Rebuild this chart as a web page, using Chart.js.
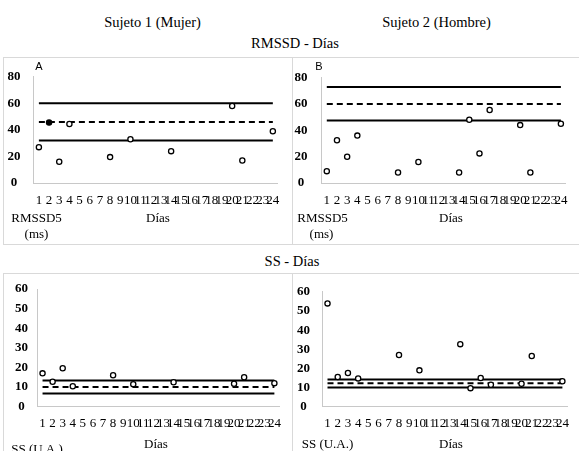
<!DOCTYPE html>
<html>
<head>
<meta charset="utf-8">
<script src="https://cdn.jsdelivr.net/npm/chart.js@4.4.1/dist/chart.umd.min.js"></script>
<style>
  body { margin: 0; width: 579px; height: 451px; position: relative; overflow: hidden; background: #fff; font-family: "Liberation Serif", "Times New Roman", serif; color: #000; }
  .t { position: absolute; white-space: nowrap; transform: translate(-50%, -50%); line-height: 1; }
  .titulo { font-size: 14.5px; }
  .eje { font-size: 13px; }
  .letra { font-family: "Liberation Sans", Arial, sans-serif; font-size: 11px; }
  .marco { position: absolute; border: 1px solid #d9d9d9; box-sizing: border-box; }
  canvas { position: absolute; }
</style>
</head>
<body>

<!-- frames around the four panels -->
<div class="marco" style="left:3px;top:57px;width:290px;height:188px"></div>
<div class="marco" style="left:292px;top:57px;width:290px;height:188px"></div>
<div class="marco" style="left:3px;top:273px;width:290px;height:190px"></div>
<div class="marco" style="left:292px;top:273px;width:290px;height:190px"></div>

<canvas id="rmssd1" width="287" height="187" style="left:4px;top:57px"></canvas>
<canvas id="rmssd2" width="287" height="187" style="left:292px;top:57px"></canvas>
<canvas id="ss1" width="287" height="178" style="left:4px;top:273px"></canvas>
<canvas id="ss2" width="287" height="178" style="left:292px;top:273px"></canvas>

<!-- titles -->
<div class="t titulo" style="left:152.5px;top:21.5px">Sujeto 1 (Mujer)</div>
<div class="t titulo" style="left:436.5px;top:21.5px">Sujeto 2 (Hombre)</div>
<div class="t titulo" style="left:295px;top:43px">RMSSD - Días</div>
<div class="t titulo" style="left:292px;top:261px">SS - Días</div>

<div class="t letra" style="left:39px;top:66px">A</div>
<div class="t letra" style="left:319px;top:66px">B</div>

<!-- axis labels -->
<div class="t eje" style="left:36.5px;top:216.5px">RMSSD5</div>
<div class="t eje" style="left:36.5px;top:233px">(ms)</div>
<div class="t eje" style="left:158px;top:217px">Días</div>
<div class="t eje" style="left:322.5px;top:216.5px">RMSSD5</div>
<div class="t eje" style="left:321.5px;top:233px">(ms)</div>
<div class="t eje" style="left:451px;top:217px">Días</div>
<div class="t eje" style="left:37px;top:448px">SS (U.A.)</div>
<div class="t eje" style="left:156px;top:443px">Días</div>
<div class="t eje" style="left:327.5px;top:443px">SS (U.A.)</div>
<div class="t eje" style="left:451px;top:443px">Días</div>

<script>
// days on the x axis
const dias = ['1','2','3','4','5','6','7','8','9','10','11','12','13','14','15','16','17','18','19','20','21','22','23','24'];

// sujeto 1 (mujer) - measured days
const diasS1 = ['1','2','3','4','8','10','14','20','21','24'];
const rmssdS1 = [27, 45.5, 16, 44.5, 19.5, 33, 24, 58, 17, 39];
const ssS1 = [17, 12.7, 19.6, 10.4, 16, 11.5, 12.5, 11.7, 15, 12];
// upper limit, mean, lower limit
const rmssdS1Lim = [60, 46, 32];
const ssS1Lim = [13.3, 10, 6.7];

// sujeto 2 (hombre)
const diasS2 = ['1','2','3','4','8','10','14','15','16','17','20','21','24'];
const rmssdS2 = [9, 32.5, 20, 36, 8, 16, 8, 48, 22.5, 55.5, 44, 8, 45];
const ssS2 = [54, 15.5, 17.6, 14.8, 27, 19, 32.7, 9.7, 15, 11.5, 12, 26.5, 13.3];
const rmssdS2Lim = [73, 60, 47.5];
const ssS2Lim = [14.2, 12.2, 10];

// y axis ticks
const ticksRmssd = [0, 20, 40, 60, 80];
const ticksSs = [0, 10, 20, 30, 40, 50, 60];

// point on day 2 of subject 1 is drawn filled
const rellenoS1 = ['2'];

function limite(y, dashed) {
    return {
        type: 'line',
        data: [{ x: dias[0], y: y }, { x: dias[dias.length - 1], y: y }],
        borderColor: '#000',
        borderWidth: 2,
        borderDash: dashed ? [6, 4] : [],
        pointRadius: 0,
        order: 1,
    };
}

function panel(id, xs, ys, lims, yTicks, relleno, box) {
    const ctx = document.getElementById(id);
    const w = ctx.width, h = ctx.height;
    new Chart(ctx, {
        type: 'line',
        data: {
            labels: dias,
            datasets: [
                {
                    data: xs.map((d, i) => ({ x: d, y: ys[i] })),
                    showLine: false,
                    pointRadius: 2.6,
                    pointBorderWidth: 1.3,
                    pointBorderColor: '#000',
                    pointBackgroundColor: xs.map(d => relleno.includes(d) ? '#000' : '#fff'),
                    order: 0,
                },
                limite(lims[0], false),
                limite(lims[1], true),
                limite(lims[2], false),
            ],
        },
        options: {
            responsive: false,
            animation: false,
            events: [],
            layout: { padding: { left: 0, top: box.top, right: w - box.right, bottom: 0 } },
            plugins: { legend: { display: false }, tooltip: { enabled: false } },
            scales: {
                x: {
                    type: 'category',
                    offset: true,
                    grid: { display: false, drawTicks: false },
                    border: { display: true, color: '#c8c8c8', width: 1 },
                    ticks: {
                        autoSkip: false, maxRotation: 0, minRotation: 0,
                        padding: box.xPad, color: '#000',
                        font: { family: 'Liberation Serif', size: 13, lineHeight: 1 },
                    },
                    afterFit: s => { s.height = h - box.bottom; },
                },
                y: {
                    min: yTicks[0],
                    max: yTicks[yTicks.length - 1],
                    grid: { display: false, drawTicks: false },
                    border: { display: true, color: '#c8c8c8', width: 1 },
                    afterBuildTicks: s => { s.ticks = yTicks.map(v => ({ value: v })); },
                    ticks: {
                        crossAlign: 'center', padding: box.yPad, color: '#000',
                        font: { family: 'Liberation Serif', size: 13, weight: 'bold', lineHeight: 1 },
                    },
                    afterFit: s => { s.width = box.left; },
                },
            },
        },
    });
}

panel('rmssd1', diasS1, rmssdS1, rmssdS1Lim, ticksRmssd, rellenoS1,
    { left: 29.8, right: 279.2, top: 8, bottom: 126, xPad: 11.5, yPad: 13.3 });
panel('rmssd2', diasS2, rmssdS2, rmssdS2Lim, ticksRmssd, [],
    { left: 29.7, right: 285.3, top: 8, bottom: 126, xPad: 11.5, yPad: 14.2 });
panel('ss1', diasS1, ssS1, ssS1Lim, ticksSs, [],
    { left: 33.5, right: 281.2, top: 8.7, bottom: 133.7, xPad: 10, yPad: 9.5 });
panel('ss2', diasS2, ssS2, ssS2Lim, ticksSs, [],
    { left: 30.4, right: 283.2, top: 8.7, bottom: 133.7, xPad: 10, yPad: 12.4 });
</script>
</body>
</html>
